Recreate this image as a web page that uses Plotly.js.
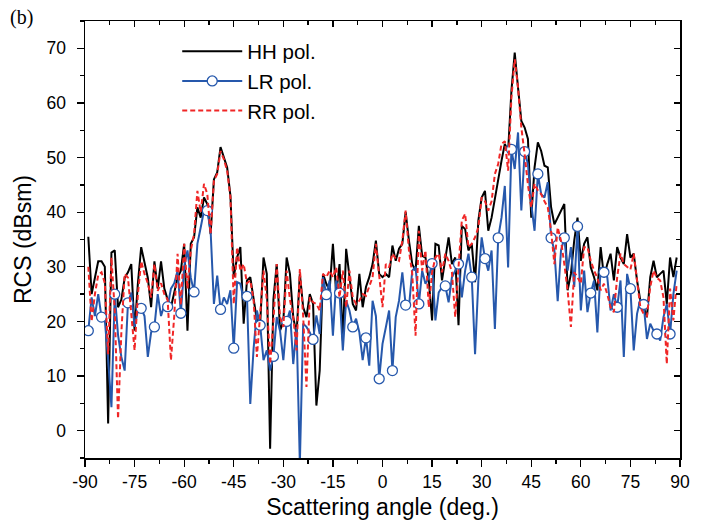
<!DOCTYPE html>
<html>
<head>
<meta charset="utf-8">
<script src="https://cdn.plot.ly/plotly-3.0.1.min.js"></script>
<style>
  html, body { margin: 0; padding: 0; background: #fff; }
  #chart { width: 705px; height: 524px; }
</style>
</head>
<body>
<div id="chart"></div>
<script>
// Scattering angles (deg.), -89 ... 89 in 1-degree steps
const angleStart = -89;
const angleCount = 179;
const angles = [];
for (let i = 0; i < angleCount; i++) angles.push(angleStart + i);

// HH pol. RCS (dBsm)
const hhPol = [
  35.5, 25, 28, 31, 31, 30, 1.3, 32.6, 33, 22.6,
  24, 28, 29, 30.5, 18.3, 27, 33.6, 30.5, 28, 22.6,
  31, 26, 31, 26, 24, 22.6, 25.6, 28, 29.3, 34.2,
  18.3, 34.2, 35.4, 40.9, 39, 42.7, 41.5, 36, 46, 47.3,
  51.9, 50, 48.2, 43, 28.1, 31.7, 33.6, 19.6, 27.5, 28.1,
  24.4, 20.2, 19.6, 31.7, 28.7, -3.3, 24, 30.5, 18.3, 20,
  31.7, 28.7, 20.8, 17.7, 28.7, 22.6, 20.8, 25, 23.2, 4.6,
  11, 28.7, 26.9, 25.7, 34.2, 25, 30.5, 16.5, 33.3, 28.1,
  23.2, 22, 28.7, 22.6, 26.3, 28.1, 30.5, 34.8, 28.7, 28.1,
  28.7, 28.1, 33.9, 31.1, 33.3, 34.2, 40, 34.8, 30.5, 29.3,
  37.5, 32, 31.7, 27.5, 20.2, 34.2, 33.9, 27.5, 31.4, 35.4,
  30.5, 31.7, 19.3, 37.5, 36.9, 33, 34.2, 27.2, 38.5, 42.7,
  43.9, 36.6, 39, 42.7, 46.4, 49.4, 52.5, 51.2, 62.2, 69.2,
  62.8, 56.7, 55.5, 53.4, 39, 48.2, 52.8, 51.2, 48.5, 48.2,
  40.9, 37.8, 39, 40.3, 41.5, 25.7, 28.7, 34.8, 39, 31.1,
  34.2, 35.4, 29.9, 28.1, 25.7, 33.6, 28.1, 30.5, 32.4, 27.5,
  33.6, 31.7, 30.5, 36, 31.7, 32.4, 27.5, 23.8, 22.6, 20.8,
  28.1, 31.1, 28.1, 28.7, 29.3, 23.2, 31.7, 28.1, 31.7
];

// LR pol. RCS (dBsm)
const lrPol = [
  18.3, 24.4, 21, 25, 20.8, 20.2, 13, 4.3, 25, 17.5,
  13.5, 11, 23.4, 25.3, 19, 22, 22.4, 21, 13.5, 18,
  19, 25, 21, 23, 22.7, 26, 27, 29.3, 21.5, 30,
  33, 28, 25.4, 34.2, 37.2, 40.3, 40.3, 36.6, 23.2, 28.4,
  22.2, 24.4, 23.2, 25.7, 15.1, 27.2, 26.9, 24, 24.6, 4.9,
  15, 22, 19.3, 12.9, 14.7, 11, 13.6, 20.8, 18.3, 12.9,
  20, 22, 12.2, 19, -6, 19.6, 19, 18, 16.7, 21.1,
  17.7, 28.1, 24.9, 27.5, 17.4, 27.5, 25.2, 14.7, 23.8, 22,
  19, 20.5, 18, 12.9, 17, 11.9, 23.8, 21, 9.5, 15.9,
  18.9, 22, 11, 20.8, 23.8, 29, 23, 22.6, 29.3, 30,
  23.2, 29.3, 26.9, 28, 30.6, 20.2, 25.3, 26.3, 26.5, 23.5,
  28.1, 29.3, 30.5, 24.4, 29.3, 32.4, 28.1, 14, 27.5, 35.4,
  31.5, 29.3, 33, 18.6, 35.3, 39, 44.8, 29.9, 51.5, 47.9,
  54.6, 40.3, 51.1, 48.8, 41.5, 36.6, 47, 43.3, 42.7, 45.5,
  35.3, 33, 23.7, 33, 35.3, 29.3, 33.6, 26.3, 37.4, 22,
  29.3, 21.7, 25.2, 27.5, 18, 29.9, 29, 28.1, 22, 25,
  22.6, 27.5, 13.5, 28.7, 26, 14.7, 21.4, 24, 23.1, 16.8,
  19.6, 18.3, 17.7, 16.5, 20.8, 23.2, 17.7, 25, 29.3
];

// RR pol. RCS (dBsm)
const rrPol = [
  30, 20, 25, 28.5, 29, 27, 14, 31.7, 22, 2.2,
  18, 28.7, 28, 21, 14.7, 25, 31, 28.7, 27, 24.4,
  30.5, 25.6, 27, 25, 24, 12.9, 21, 32.4, 23, 34.2,
  26, 33, 36, 43.9, 40, 45.2, 43.3, 36, 45.8, 47,
  51.2, 49.7, 47.6, 42.7, 23.2, 33.6, 29.3, 30.5, 27, 27.5,
  24, 13.5, 20.8, 29.3, 24, 12.2, 20, 30.5, 20.8, 19,
  29.3, 24, 20.8, 14.7, 29.6, 21, 8, 24.4, 23.5, 23.2,
  22, 28.7, 28.1, 29.3, 28.1, 29.9, 24.4, 29.3, 22.6, 29.3,
  24.4, 23.2, 23.8, 25, 24.7, 26.3, 28.1, 34.2, 28, 22.6,
  30.5, 29.9, 32.4, 31.5, 31.1, 34.8, 40.3, 33, 28.7, 17.4,
  36.6, 29.3, 33, 22.6, 29, 31.7, 32.4, 29, 32.4, 31.1,
  29, 20.8, 30, 38.5, 39.7, 33.6, 34.2, 35.4, 37.2, 42.7,
  42, 40.3, 42, 47, 48.8, 52.5, 53, 47.6, 61, 68,
  62.8, 55.5, 50.6, 45, 40.9, 45.2, 44, 43.3, 42, 40.9,
  36.6, 30.5, 37.2, 34.8, 30.5, 25.7, 19, 29, 28.1, 26.9,
  33.6, 33.6, 31.1, 29.3, 28, 25.7, 26.9, 25, 22.6, 21.7,
  28.1, 32.4, 30.5, 30, 29.5, 32.4, 27, 22.6, 21.4, 21,
  26.3, 29.3, 28, 27.5, 24.4, 12.2, 26, 20.2, 27
];

const seriesNames = ['HH pol.', 'LR pol.', 'RR pol.'];
const xTickVals = [-90, -75, -60, -45, -30, -15, 0, 15, 30, 45, 60, 75, 90];
const xTickText = ['-90', '-75', '-60', '-45', '-30', '-15', '0', '15', '30', '45', '60', '75', '90'];
const yTickVals = [0, 10, 20, 30, 40, 50, 60, 70];
const yTickText = ['0', '10', '20', '30', '40', '50', '60', '70'];

// LR markers are drawn on every 4th sample (style only)
const markerStep = 4;
const lrBlue = 'rgb(38,88,172)';
const lrFill = angles.map((_, i) => i % markerStep === 0 ? '#ffffff' : 'rgba(0,0,0,0)');
const lrEdge = angles.map((_, i) => i % markerStep === 0 ? lrBlue : 'rgba(0,0,0,0)');

const FONT = '"Liberation Sans", Arial, Helvetica, sans-serif';

const traces = [
  {
    x: angles, y: hhPol, name: seriesNames[0], type: 'scatter', mode: 'lines',
    line: { color: '#000000', width: 2 }
  },
  {
    x: angles, y: lrPol, name: seriesNames[1], type: 'scatter', mode: 'lines+markers',
    line: { color: lrBlue, width: 2 },
    marker: { symbol: 'circle', size: 10, color: lrFill, line: { color: lrEdge, width: 1.3 } }
  },
  {
    x: angles, y: rrPol, name: seriesNames[2], type: 'scatter', mode: 'lines',
    line: { color: 'rgb(240,38,38)', width: 2, dash: '5px,3px' }
  },
  {
    x: [], y: [], xaxis: 'x2', yaxis: 'y2', type: 'scatter', mode: 'lines',
    showlegend: false, hoverinfo: 'skip'
  }
];

const axisCommon = {
  showline: true, linecolor: '#000', linewidth: 1.5,
  showgrid: false, zeroline: false,
  tickcolor: '#000', tickwidth: 1.3,
  tickfont: { family: FONT, size: 17.5, color: '#000' }
};

const layout = {
  width: 705, height: 524,
  margin: { l: 85, r: 25, t: 21, b: 66, pad: 0 },
  paper_bgcolor: '#fff', plot_bgcolor: '#fff',
  font: { family: FONT, color: '#000' },
  showlegend: true,
  legend: {
    x: 0.155, y: 0.976, xanchor: 'left', yanchor: 'top',
    bgcolor: 'rgba(0,0,0,0)', borderwidth: 0,
    font: { family: FONT, size: 20.5, color: '#000' },
    itemwidth: 60, tracegroupgap: 0
  },
  xaxis: Object.assign({}, axisCommon, {
    range: [-90, 90], tickmode: 'array', tickvals: xTickVals, ticktext: xTickText,
    ticks: 'outside', ticklen: 7,
    minor: { dtick: 7.5, tick0: -90, ticks: 'outside', ticklen: 4, tickwidth: 1.3, tickcolor: '#000' },
    title: { text: 'Scattering angle (deg.)', font: { family: FONT, size: 23, color: '#000' }, standoff: 8 }
  }),
  yaxis: Object.assign({}, axisCommon, {
    range: [-5, 75], tickmode: 'array', tickvals: yTickVals, ticktext: yTickText,
    ticks: 'outside', ticklen: 7, ticklabelstandoff: 7,
    minor: { dtick: 5, tick0: 0, ticks: 'outside', ticklen: 4, tickwidth: 1.3, tickcolor: '#000' },
    title: { text: 'RCS (dBsm)', font: { family: FONT, size: 23, color: '#000' }, standoff: 8 }
  }),
  xaxis2: Object.assign({}, axisCommon, {
    overlaying: 'x', side: 'top', anchor: 'y2',
    range: [-90, 90], tickmode: 'array', tickvals: xTickVals,
    ticks: 'inside', ticklen: 6, showticklabels: false,
    minor: { dtick: 7.5, tick0: -90, ticks: 'inside', ticklen: 4, tickwidth: 1.3, tickcolor: '#000' }
  }),
  yaxis2: Object.assign({}, axisCommon, {
    overlaying: 'y', side: 'right', anchor: 'x2',
    range: [-5, 75], tickmode: 'array', tickvals: yTickVals,
    ticks: 'inside', ticklen: 6, showticklabels: false,
    minor: { dtick: 5, tick0: 0, ticks: 'inside', ticklen: 4, tickwidth: 1.3, tickcolor: '#000' }
  }),
  annotations: [{
    text: '(b)', xref: 'paper', yref: 'paper',
    x: -0.13, y: 1.008, xanchor: 'left', yanchor: 'middle',
    showarrow: false,
    font: { family: '"Liberation Serif", "Times New Roman", serif', size: 20, color: '#000' }
  }]
};

Plotly.newPlot('chart', traces, layout, { staticPlot: true, displayModeBar: false });
</script>
</body>
</html>
